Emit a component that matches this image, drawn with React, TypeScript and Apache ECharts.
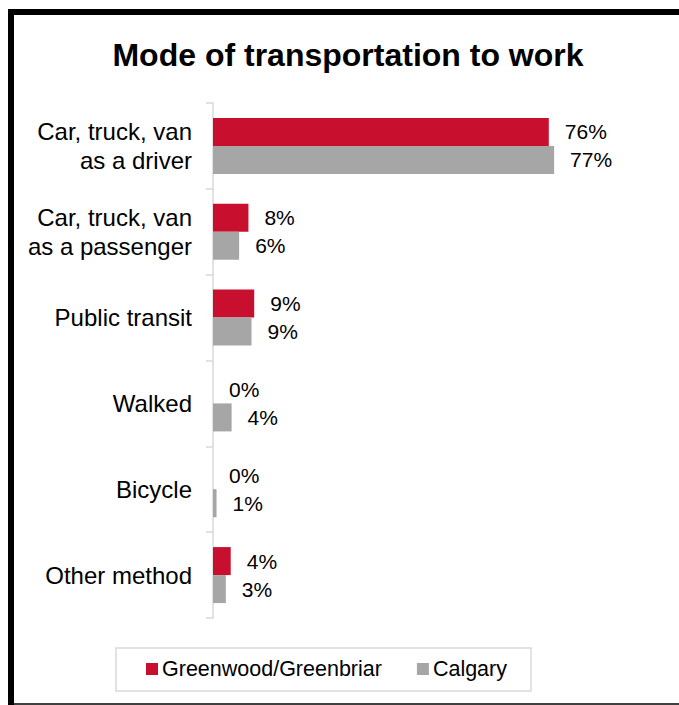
import React, { useEffect, useRef } from "react";
import * as echarts from "echarts";

const categories = [
  "Car, truck, van\nas a driver",
  "Car, truck, van\nas a passenger",
  "Public transit",
  "Walked",
  "Bicycle",
  "Other method",
];
const greenwood = [75.8, 8.0, 9.3, 0, 0, 4.0];
const calgary = [77.0, 5.9, 8.7, 4.2, 0.8, 2.9];
const seriesNames = ["Greenwood/Greenbriar", "Calgary"];
const titleText = "Mode of transportation to work";

const FONT = "'Liberation Sans', Arial, Helvetica, sans-serif";

export default function App() {
  const ref = useRef<HTMLDivElement>(null);
  useEffect(() => {
    if (!ref.current) return;
    const chart = echarts.init(ref.current, undefined, { renderer: "svg" });
    const label = {
      show: true,
      position: "right" as const,
      distance: 16,
      color: "#000",
      fontSize: 21,
      fontFamily: FONT,
      formatter: (p: any) => Math.round(p.value) + "%",
    };
    chart.setOption({
      animation: false,
      backgroundColor: "#fff",
      title: {
        text: titleText,
        left: 343,
        top: 34,
        textAlign: "center",
        textStyle: { fontSize: 32, fontWeight: "bold", color: "#000", fontFamily: FONT },
      },
      graphic: [
        { type: "rect", shape: { x: 8, y: 9, width: 6, height: 696 }, style: { fill: "#000" } },
        { type: "rect", shape: { x: 8, y: 9, width: 680, height: 6 }, style: { fill: "#000" } },
        { type: "rect", shape: { x: 14, y: 703, width: 680, height: 2 }, style: { fill: "#404040" } },
      ],
      legend: {
        data: seriesNames,
        left: 116,
        top: 648,
        padding: [10, 24, 11, 30],
        itemWidth: 12,
        itemHeight: 12,
        itemGap: 35,
        borderColor: "#d9d9d9",
        borderWidth: 1.5,
        icon: "rect",
        textStyle: { fontSize: 21.5, color: "#000", fontFamily: FONT, padding: [0, 0, 0, -1] },
      },
      grid: { left: 213, right: 23, top: 103, bottom: 87, containLabel: false },
      xAxis: {
        type: "value",
        min: 0,
        max: 100,
        show: false,
      },
      yAxis: {
        type: "category",
        inverse: true,
        data: categories,
        axisLine: { show: true, lineStyle: { color: "#d9d9d9", width: 1.5 } },
        axisTick: { show: true, length: 7, lineStyle: { color: "#d9d9d9", width: 1.5 } },
        axisLabel: {
          margin: 21,
          fontSize: 24,
          lineHeight: 29,
          color: "#000",
          fontFamily: FONT,
          align: "right",
        },
        splitLine: { show: false },
      },
      series: [
        {
          name: seriesNames[0],
          type: "bar",
          data: greenwood,
          barWidth: 28,
          barGap: "0%",
          itemStyle: { color: "#c8102e" },
          label,
        },
        {
          name: seriesNames[1],
          type: "bar",
          data: calgary,
          barWidth: 28,
          barGap: "0%",
          itemStyle: { color: "#a6a6a6" },
          label,
        },
      ],
    });
    return () => chart.dispose();
  }, []);
  return (
    <div
      ref={ref}
      style={{ position: "fixed", left: 0, top: 0, width: 679, height: 705 }}
    />
  );
}
